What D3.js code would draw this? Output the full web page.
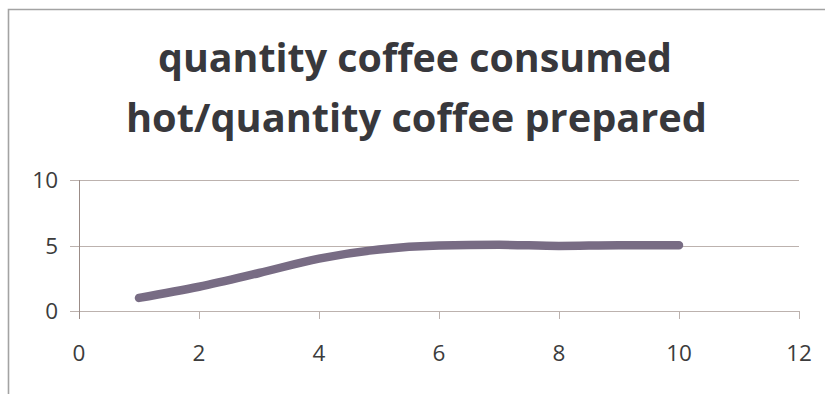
<!DOCTYPE html>
<html>
<head>
<meta charset="utf-8">
<script src="https://cdn.jsdelivr.net/npm/d3@7"></script>
<style>
  html, body { margin: 0; padding: 0; background: #fff; }
  svg { display: block; }
</style>
</head>
<body>
<svg id="chart" width="825" height="394"></svg>
<script>
// Series: ratio of coffee consumed hot to coffee prepared
const xValues = [1, 2, 3, 4, 5, 6, 7, 8, 9, 10];
const yValues = [1, 1.85, 2.9, 4.0, 4.7, 5, 5.05, 4.97, 5.02, 5.02];
const xTicks = [0, 2, 4, 6, 8, 10, 12];
const yTicks = [0, 5, 10];
const titleLines = ["quantity coffee consumed", "hot/quantity coffee prepared"];

const svg = d3.select("#chart");
const W = 825, H = 394;

// chart frame (extends past the right and bottom edges)
svg.append("path")
  .attr("d", `M8.5,${H + 2} V9.5 H${W + 2}`)
  .attr("fill", "none")
  .attr("stroke", "#a3a3a3")
  .attr("stroke-width", 1.6);

const x = d3.scaleLinear().domain([0, 12]).range([79, 799]);
const y = d3.scaleLinear().domain([0, 10]).range([311, 180]);

const gridColor = "#bcb2ae";
const axisColor = "#9b8c87";
const textColor = "#3c3c3c";

// horizontal gridlines with left ticks
svg.append("g")
  .selectAll("line")
  .data(yTicks.filter(d => d !== 0))
  .join("line")
  .attr("x1", 70).attr("x2", x(12))
  .attr("y1", d => Math.round(y(d)) + 0.5)
  .attr("y2", d => Math.round(y(d)) + 0.5)
  .attr("stroke", gridColor)
  .attr("stroke-width", 1);

// x axis line
svg.append("line")
  .attr("x1", 70).attr("x2", x(12))
  .attr("y1", Math.round(y(0)) + 0.5).attr("y2", Math.round(y(0)) + 0.5)
  .attr("stroke", gridColor);

// x tick marks
svg.append("g")
  .selectAll("line")
  .data(xTicks.filter(d => d !== 0))
  .join("line")
  .attr("x1", d => Math.round(x(d)) + 0.5)
  .attr("x2", d => Math.round(x(d)) + 0.5)
  .attr("y1", y(0)).attr("y2", y(0) + 8)
  .attr("stroke", gridColor);

// y axis line (runs down through the zero tick)
svg.append("line")
  .attr("x1", Math.round(x(0)) + 0.5).attr("x2", Math.round(x(0)) + 0.5)
  .attr("y1", y(10)).attr("y2", y(0) + 8)
  .attr("stroke", axisColor);

const labelFont = { family: "'Open Sans', sans-serif", size: 22.5 };

// y tick labels
svg.append("g")
  .selectAll("text")
  .data(yTicks)
  .join("text")
  .attr("x", 58)
  .attr("y", d => y(d))
  .attr("dy", "0.36em")
  .attr("text-anchor", "end")
  .attr("font-family", labelFont.family)
  .attr("font-size", labelFont.size)
  .attr("fill", textColor)
  .text(d => d);

// x tick labels
svg.append("g")
  .selectAll("text")
  .data(xTicks)
  .join("text")
  .attr("x", d => x(d))
  .attr("y", 361)
  .attr("text-anchor", "middle")
  .attr("font-family", labelFont.family)
  .attr("font-size", labelFont.size)
  .attr("fill", textColor)
  .text(d => d);

// smoothed data line
const line = d3.line()
  .x((d, i) => x(xValues[i]))
  .y(d => y(d))
  .curve(d3.curveMonotoneX);

svg.append("path")
  .datum(yValues)
  .attr("d", line)
  .attr("fill", "none")
  .attr("stroke", "#786c84")
  .attr("stroke-width", 8.5)
  .attr("stroke-linecap", "round")
  .attr("stroke-linejoin", "round");

// two-line title
const titleSpec = [
  { text: titleLines[0], x0: 158, x1: 672, baseline: 72 },
  { text: titleLines[1], x0: 126, x1: 707, baseline: 132 }
];
svg.append("g")
  .selectAll("text")
  .data(titleSpec)
  .join("text")
  .attr("x", d => d.x0)
  .attr("y", d => d.baseline)
  .attr("textLength", d => d.x1 - d.x0)
  .attr("lengthAdjust", "spacingAndGlyphs")
  .attr("font-family", "'Open Sans', sans-serif")
  .attr("font-weight", "bold")
  .attr("font-size", 39)
  .attr("fill", "#38383c")
  .text(d => d.text);
</script>
</body>
</html>
